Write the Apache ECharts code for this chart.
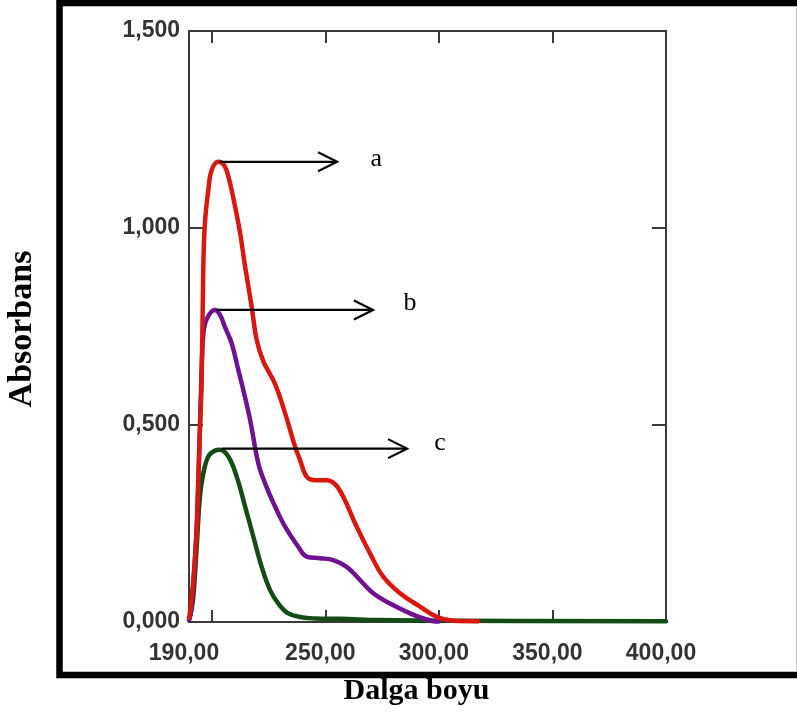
<!DOCTYPE html>
<html>
<head>
<meta charset="utf-8">
<script src="https://cdn.jsdelivr.net/npm/echarts@6/dist/echarts.min.js"></script>
<style>
  html, body { margin: 0; padding: 0; background: #ffffff; }
  #chart { width: 797px; height: 718px; }
</style>
</head>
<body>
<div id="chart"></div>
<script>
// Wavelength (nm) and absorbance for the three spectra a, b, c
const lambdaA = [190, 190.4, 191.9, 193.4, 194.1, 194.8, 195.6, 196.3, 197.0, 198.5, 200.0, 202.9, 205.8, 208.1, 210.3, 212.5, 214.7, 217.6, 219.8, 222.7, 227.9, 232.3, 236.7, 238.9, 241.8, 245.5, 250.6, 254.3, 257.9, 263.8, 269.7, 275.5, 282.9, 291.7, 299.1, 306.4, 317.2];
const valueA  = [0.01, 0.023, 0.107, 0.234, 0.36, 0.487, 0.62, 0.90, 1.012, 1.096, 1.147, 1.168, 1.156, 1.113, 1.054, 0.987, 0.902, 0.80, 0.716, 0.662, 0.604, 0.53, 0.445, 0.411, 0.369, 0.36, 0.36, 0.35, 0.318, 0.242, 0.174, 0.115, 0.073, 0.039, 0.013, 0.003, 0.002];

const lambdaB = [190, 190.9, 192.2, 193.5, 194.4, 195.3, 196.3, 197.9, 201.4, 203.6, 205.8, 208.8, 211.7, 213.9, 216.9, 220.5, 223.5, 227.9, 232.3, 238.1, 241.8, 247.7, 253.5, 259.4, 264.4, 271.1, 278.5, 287.3, 293.2, 297.6, 300];
const valueB  = [0.005, 0.03, 0.12, 0.26, 0.41, 0.59, 0.73, 0.77, 0.792, 0.78, 0.749, 0.707, 0.64, 0.589, 0.513, 0.403, 0.352, 0.293, 0.242, 0.191, 0.166, 0.162, 0.157, 0.14, 0.112, 0.073, 0.047, 0.022, 0.009, 0.002, 0.001];

const lambdaC = [190, 190.9, 191.9, 193.4, 194.8, 196.3, 198.5, 201.4, 203.6, 207.3, 211.0, 214.7, 218.3, 222.0, 225.7, 229.3, 233.7, 239.6, 245.5, 256.5, 274.1, 304.9, 400];
const valueC  = [0.005, 0.025, 0.064, 0.191, 0.318, 0.377, 0.42, 0.435, 0.437, 0.42, 0.369, 0.293, 0.217, 0.14, 0.081, 0.047, 0.022, 0.012, 0.009, 0.008, 0.005, 0.003, 0.002];

// Axis ticks and labels
const xTickValues  = [200, 250, 300, 350];
const xLabelValues = [190, 250, 300, 350, 400];
const yTickValues  = [0, 0.5, 1.0, 1.5];

// Peak call-outs: arrow from peak to the right, with a letter beyond it
const calloutText   = ['a', 'b', 'c'];
const arrowStart    = [203.6, 202.2, 204.4];
const arrowEnd      = [255.2, 271.0, 286.0];
const arrowLevel    = [1.168, 0.792, 0.440];
const calloutLabelX = [272.5, 287.3, 300.5];
const calloutLabelY = [1.175, 0.810, 0.455];

const zip = (xs, ys) => xs.map((x, i) => [x, ys[i]]);

const frameColor = '#3a3a3a';

const chart = echarts.init(document.getElementById('chart'), null, { renderer: 'canvas' });

const calloutData = calloutText.map((t, i) => [arrowStart[i], arrowEnd[i], arrowLevel[i], calloutLabelX[i], calloutLabelY[i]]);

const spectrumLine = (name, data, color, z) => ({
  name, type: 'line', data,
  showSymbol: false, smooth: 0.4, z,
  lineStyle: { color, width: 4.5, join: 'round', cap: 'round' }
});

chart.setOption({
  animation: false,
  backgroundColor: '#ffffff',
  grid: { left: 189, top: 31, right: 131, bottom: 96 },
  xAxis: [
    {
      type: 'value', position: 'bottom', min: 190, max: 400,
      splitLine: { show: false },
      axisLine: { show: true, onZero: false, lineStyle: { color: frameColor, width: 2 } },
      axisTick: { show: true, inside: true, length: 12, customValues: xTickValues, lineStyle: { color: frameColor, width: 2 } },
      axisLabel: {
        customValues: xLabelValues,
        margin: 20,
        padding: [0, 10, 0, 0],
        color: '#333333',
        fontFamily: '"Liberation Sans", Arial, sans-serif',
        fontWeight: 'bold',
        fontSize: 23,
        formatter: v => v.toFixed(2).replace('.', ',')
      }
    },
    {
      type: 'value', position: 'top', min: 190, max: 400,
      splitLine: { show: false },
      axisLine: { show: true, onZero: false, lineStyle: { color: frameColor, width: 2 } },
      axisTick: { show: true, inside: true, length: 12, customValues: xTickValues, lineStyle: { color: frameColor, width: 2 } },
      axisLabel: { show: false }
    }
  ],
  yAxis: [
    {
      type: 'value', position: 'left', min: 0, max: 1.5, interval: 0.5,
      splitLine: { show: false },
      axisLine: { show: true, onZero: false, lineStyle: { color: frameColor, width: 2 } },
      axisTick: { show: true, inside: true, length: 14, customValues: yTickValues, lineStyle: { color: frameColor, width: 2 } },
      axisLabel: {
        margin: 9,
        color: '#333333',
        fontFamily: '"Liberation Sans", Arial, sans-serif',
        fontWeight: 'bold',
        fontSize: 23,
        formatter: v => v.toFixed(3).replace('.', ',')
      }
    },
    {
      type: 'value', position: 'right', min: 0, max: 1.5, interval: 0.5,
      splitLine: { show: false },
      axisLine: { show: true, onZero: false, lineStyle: { color: frameColor, width: 2 } },
      axisTick: { show: true, inside: true, length: 14, customValues: yTickValues, lineStyle: { color: frameColor, width: 2 } },
      axisLabel: { show: false }
    }
  ],
  series: [
    spectrumLine('c', zip(lambdaC, valueC), '#134d15', 2),
    spectrumLine('b', zip(lambdaB, valueB), '#6e1290', 3),
    spectrumLine('a', zip(lambdaA, valueA), '#d8180f', 4),
    {
      name: 'callouts', type: 'custom', z: 10, clip: false, silent: true,
      data: calloutData,
      encode: { x: [0, 1, 3], y: [2, 4] },
      renderItem: (params, api) => {
        const i = params.dataIndex;
        const p0 = api.coord([api.value(0), api.value(2)]);
        const p1 = api.coord([api.value(1), api.value(2)]);
        const pl = api.coord([api.value(3), api.value(4)]);
        return {
          type: 'group',
          children: [
            {
              type: 'line',
              shape: { x1: p0[0], y1: p0[1], x2: p1[0], y2: p1[1] },
              style: { stroke: '#000000', lineWidth: 2.2 }
            },
            {
              type: 'polyline',
              shape: { points: [[p1[0] - 19, p1[1] - 9.5], [p1[0], p1[1]], [p1[0] - 19, p1[1] + 9.5]] },
              style: { stroke: '#000000', lineWidth: 2.2, fill: null }
            },
            {
              type: 'text',
              x: pl[0], y: pl[1],
              style: {
                text: calloutText[i],
                fill: '#000000',
                font: '26px "Liberation Serif", "Times New Roman", serif',
                align: 'center', verticalAlign: 'middle',
                textAlign: 'center', textVerticalAlign: 'middle'
              }
            }
          ]
        };
      }
    }
  ],
  graphic: [
    {
      type: 'rect', z: 0, silent: true,
      shape: { x: 59.5, y: 3, width: 760, height: 672 },
      style: { fill: null, stroke: '#000000', lineWidth: 6.5 }
    },
    {
      type: 'line', z: 0, silent: true,
      shape: { x1: 796.5, y1: 6, x2: 796.5, y2: 672 },
      style: { stroke: '#c8c8c8', lineWidth: 1 }
    },
    {
      type: 'text', x: 22, y: 329, rotation: Math.PI / 2, silent: true,
      style: {
        text: 'Absorbans', fill: '#000000',
        font: 'bold 34px "Liberation Serif", "Times New Roman", serif',
        align: 'center', verticalAlign: 'middle',
        textAlign: 'center', textVerticalAlign: 'middle'
      }
    },
    {
      type: 'text', x: 416.5, y: 691, silent: true,
      style: {
        text: 'Dalga boyu', fill: '#000000',
        font: 'bold 30px "Liberation Serif", "Times New Roman", serif',
        align: 'center', verticalAlign: 'middle',
        textAlign: 'center', textVerticalAlign: 'middle'
      }
    }
  ]
});
</script>
</body>
</html>
